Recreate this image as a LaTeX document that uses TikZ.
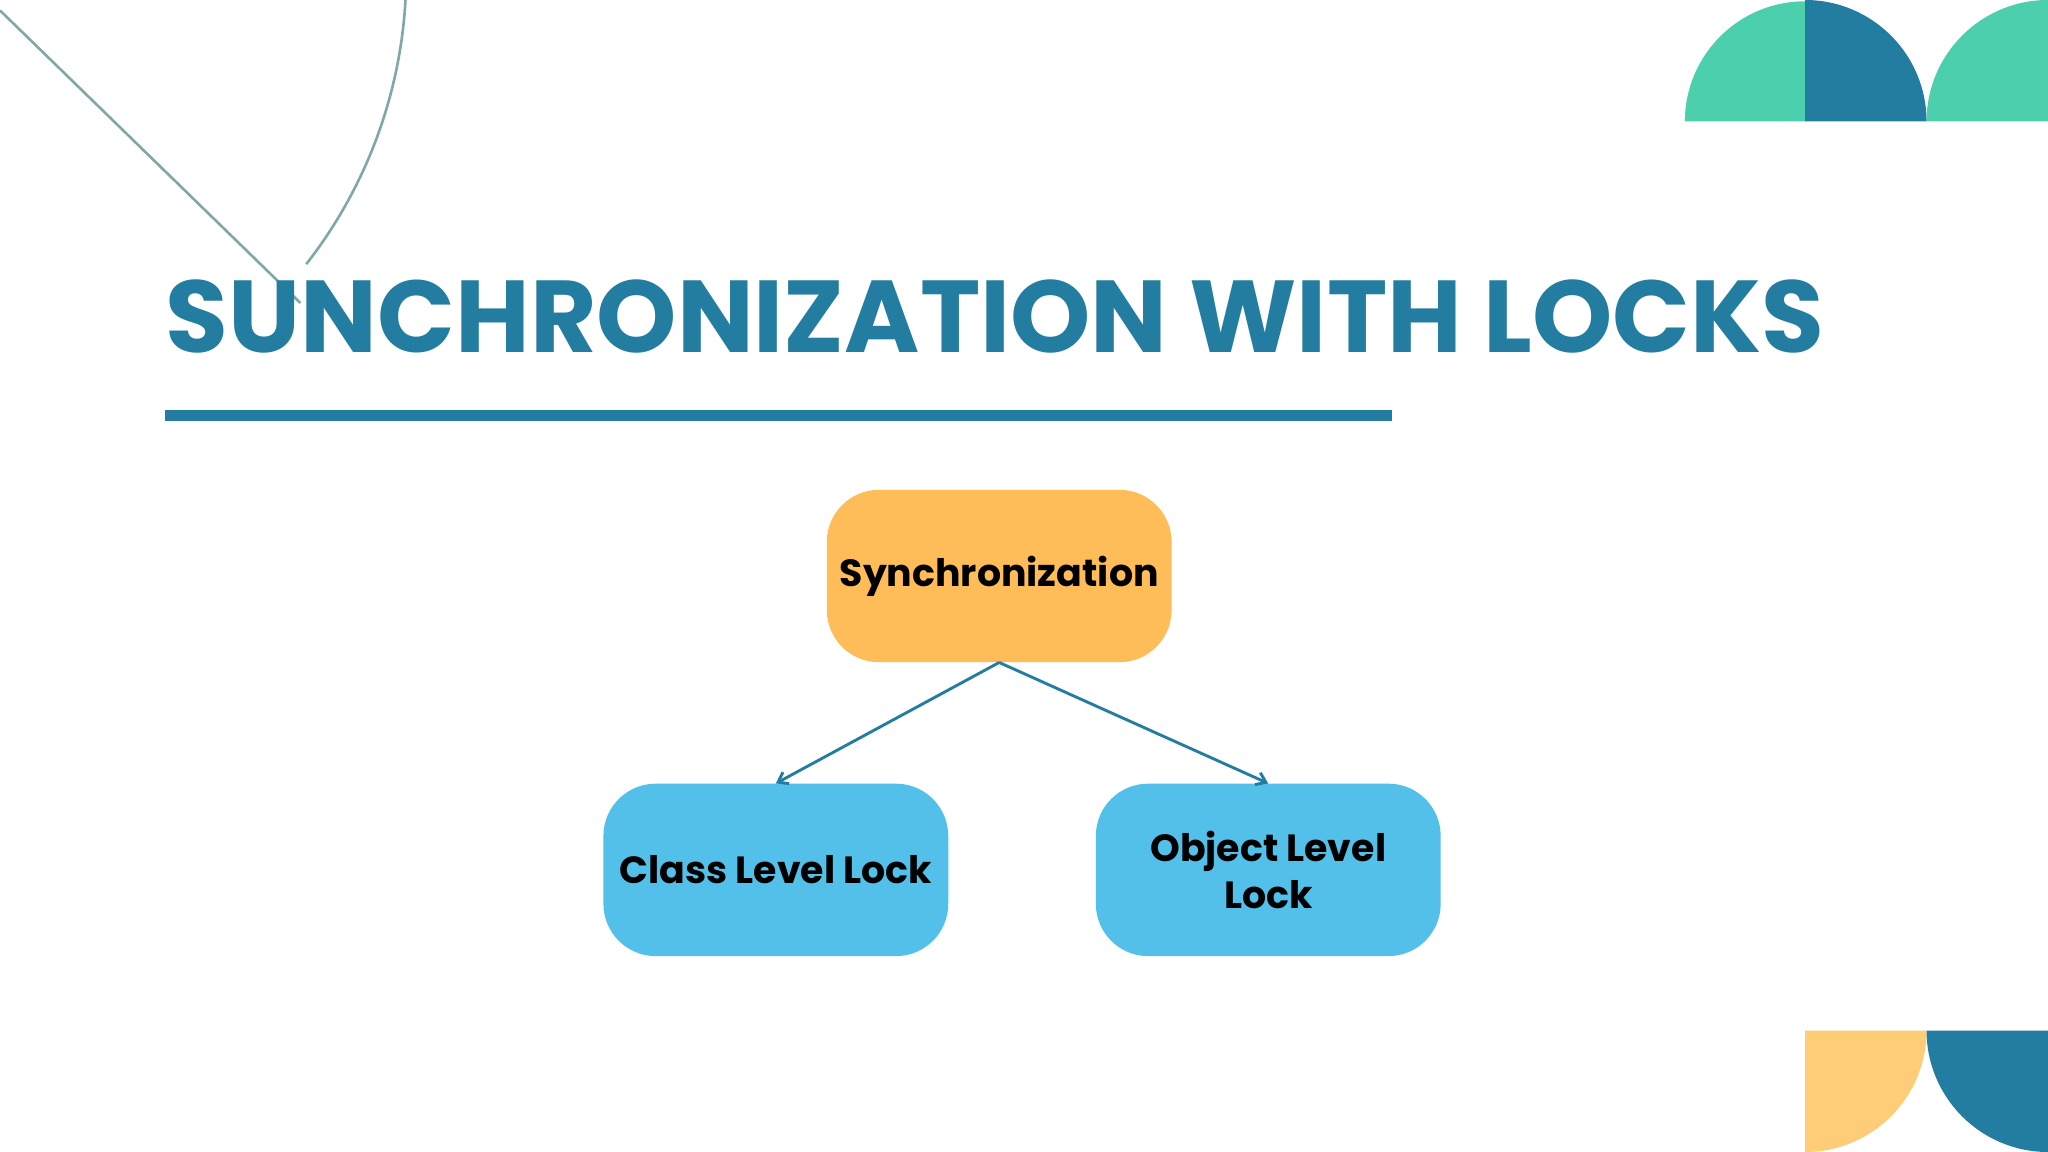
\documentclass[tikz,border=0pt]{standalone}
\usepackage{fontspec}
\setmainfont{Poppins}
\usetikzlibrary{arrows.meta}
\definecolor{teal1}{HTML}{237DA0}
\definecolor{green1}{HTML}{4BCFAD}
\definecolor{yel1}{HTML}{FFCC77}
\definecolor{org1}{HTML}{FFBD59}
\definecolor{blue1}{HTML}{52C0E8}
\definecolor{gray1}{HTML}{7FA8A8}
\tikzset{box/.style={rounded corners=40pt,minimum width=264pt,minimum height=132pt,inner sep=0pt,align=center,font=\bfseries\fontsize{29}{36}\selectfont},
conn/.style={draw=teal1,line width=2.2pt,-{Straight Barb[length=7pt,width=10pt]}}}
\begin{document}
\begin{tikzpicture}[x=1pt,y=-1pt]
\useasboundingbox[fill=white] (0,0) rectangle (1568,882);
\begin{scope}
\clip (0,0) rectangle (1568,882);
\draw[gray1,line width=2pt] (0,8) -- (230,232);
\draw[gray1,line width=2pt] (311,-20) arc[start angle=0,end angle=38,radius=361];
\fill[green1] (1382,93) -- (1290,93) arc[start angle=180,end angle=270,radius=92] -- cycle;
\fill[teal1] (1382,93) -- (1382,0) arc[start angle=270,end angle=360,radius=93] -- cycle;
\fill[green1] (1568,93) -- (1475,93) arc[start angle=180,end angle=270,radius=93] -- cycle;
\fill[yel1] (1382,789) -- (1475,789) arc[start angle=0,end angle=90,radius=93] -- cycle;
\fill[teal1] (1568,789) -- (1568,882) arc[start angle=90,end angle=180,radius=93] -- cycle;
\end{scope}
\node[anchor=center,text=teal1,inner sep=0pt] (title) at (762,242) {\resizebox{1269pt}{!}{\bfseries SUNCHRONIZATION WITH LOCKS}};
\fill[teal1] (126,314) rectangle (1066,322);
\node[box,fill=org1] (s) at (765,441) {Synchronization};
\node[box,fill=blue1] (c) at (594,666) {Class Level Lock};
\node[box,fill=blue1] (o) at (971,666) {Object Level\\Lock};
\draw[conn] (s.south) -- (c.north);
\draw[conn] (s.south) -- (o.north);
\end{tikzpicture}
\end{document}
